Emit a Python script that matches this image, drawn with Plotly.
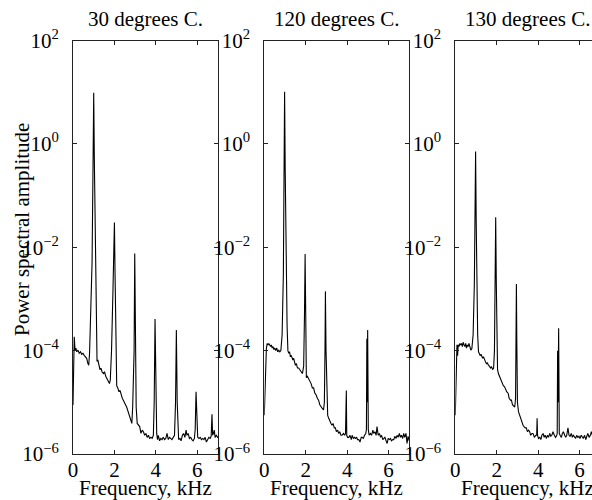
import plotly.graph_objects as go

# ---------------- data ----------------
titles = ["30 degrees C.", "120 degrees C.", "130 degrees C."]
x_title = "Frequency, kHz"
y_title = "Power spectral amplitude"
x_tick_vals = [0, 2, 4, 6]
x_tick_text = ["0", "2", "4", "6"]
y_tick_vals = [1e-6, 1e-4, 1e-2, 1e0, 1e2]
y_tick_text = ["10<sup>\u22126</sup>", "10<sup>\u22124</sup>", "10<sup>\u22122</sup>",
               "10<sup>0</sup>", "10<sup>2</sup>"]

freq_30 = [0.00, 0.03, 0.06, 0.10, 0.14, 0.18, 0.24, 0.30, 0.36, 0.42, 0.48, 0.54, 0.60, 0.66,
           0.72, 0.76, 0.80, 0.85, 0.92, 0.97, 1.00, 1.03, 1.08, 1.12, 1.16,
           1.20, 1.26, 1.30, 1.35, 1.40, 1.47, 1.52, 1.58, 1.63, 1.70, 1.76, 1.80,
           1.86, 1.93, 1.97, 2.00, 2.03, 2.07, 2.11,
           2.16, 2.22, 2.27, 2.32, 2.38, 2.43, 2.48, 2.54, 2.59, 2.64, 2.70, 2.75, 2.80, 2.84, 2.88,
           2.90, 2.95, 2.98, 3.01, 3.05,
           3.10, 3.16, 3.22, 3.28, 3.34, 3.40, 3.46, 3.52, 3.58, 3.64, 3.70, 3.76, 3.82, 3.88,
           3.92, 3.96, 4.00, 4.04,
           4.08, 4.12, 4.18, 4.24, 4.30, 4.36, 4.42, 4.48, 4.54, 4.60, 4.66, 4.72, 4.78, 4.84, 4.90,
           4.95, 4.99, 5.03, 5.06,
           5.10, 5.16, 5.22, 5.28, 5.34, 5.40, 5.46, 5.50, 5.56, 5.62, 5.68, 5.74, 5.80, 5.86,
           5.90, 5.94, 5.98,
           6.02, 6.08, 6.14, 6.20, 6.26, 6.32, 6.38, 6.44, 6.50, 6.56, 6.62, 6.67,
           6.71, 6.74, 6.78, 6.82, 6.86, 6.92, 6.98, 7.02]
power_30 = [8.9e-6, 1.0e-4, 1.86e-4, 1.0e-4, 1.12e-4, 9.5e-5, 1.02e-4, 8.9e-5, 9.5e-5, 8.5e-5, 8.9e-5, 8.1e-5, 7.6e-5, 7.1e-5,
            5.6e-5, 5.2e-5, 9.0e-5, 4.0e-4, 5.0e-3, 0.5, 9.8, 0.5, 5.0e-3, 2.0e-4, 6.2e-5,
            6.6e-5, 5.2e-5, 4.3e-5, 4.6e-5, 3.9e-5, 3.6e-5, 3.9e-5, 3.2e-5, 2.9e-5, 2.5e-5, 2.3e-5, 2.7e-5,
            1.0e-4, 1.5e-3, 5.0e-3, 3.0e-2, 3.0e-3, 2.0e-4, 2.1e-5,
            1.9e-5, 1.6e-5, 1.7e-5, 1.4e-5, 1.2e-5, 1.1e-5, 9.5e-6, 8.9e-6, 8.1e-6, 7.0e-6, 5.6e-6, 5.2e-6, 4.2e-6, 3.9e-6, 8.0e-6,
            1.5e-5, 1.0e-4, 7.6e-3, 1.0e-4, 8.0e-6,
            3.9e-6, 3.6e-6, 3.4e-6, 2.5e-6, 2.9e-6, 2.7e-6, 2.3e-6, 2.5e-6, 2.1e-6, 2.3e-6, 2.0e-6, 2.1e-6, 2.0e-6, 2.3e-6,
            1.0e-5, 4.1e-4, 1.0e-5, 2.5e-6,
            1.9e-6, 2.3e-6, 1.8e-6, 2.0e-6, 1.9e-6, 2.1e-6, 1.9e-6, 2.0e-6, 2.5e-6, 1.9e-6, 2.1e-6, 2.0e-6, 1.9e-6, 2.1e-6, 2.3e-6,
            1.0e-5, 2.5e-4, 1.0e-5, 2.3e-6,
            1.9e-6, 2.0e-6, 1.8e-6, 2.3e-6, 2.5e-6, 2.1e-6, 2.9e-6, 2.3e-6, 2.5e-6, 2.0e-6, 2.1e-6, 1.9e-6, 1.8e-6, 2.0e-6,
            3.0e-6, 1.6e-5, 3.0e-6,
            2.1e-6, 2.0e-6, 2.1e-6, 1.9e-6, 2.0e-6, 1.9e-6, 2.1e-6, 1.7e-6, 1.9e-6, 2.1e-6, 2.0e-6, 2.2e-6,
            5.9e-6, 2.3e-6, 2.5e-6, 2.9e-6, 2.1e-6, 2.3e-6, 2.1e-6, 2.2e-6]

freq_120 = [0.00, 0.03, 0.06, 0.10, 0.14, 0.18, 0.22, 0.26, 0.30, 0.34, 0.38, 0.42, 0.46, 0.50,
            0.55, 0.60, 0.65, 0.70, 0.75, 0.80,
            0.86, 0.92, 0.95, 0.98, 1.01, 1.05, 1.10, 1.14,
            1.18, 1.22, 1.26, 1.30, 1.34, 1.38, 1.42, 1.46, 1.50, 1.55, 1.60, 1.66, 1.72, 1.78, 1.84,
            1.90, 1.94, 1.97, 2.00, 2.03,
            2.08, 2.14, 2.20, 2.26, 2.32, 2.38, 2.44, 2.50, 2.56, 2.62, 2.68, 2.74, 2.80, 2.86,
            2.90, 2.93, 2.95, 2.98, 3.02,
            3.06, 3.11, 3.16, 3.22, 3.27, 3.32, 3.38, 3.43, 3.48, 3.54, 3.59, 3.64, 3.70, 3.75, 3.82, 3.88,
            3.92, 3.94, 3.96, 3.98,
            4.02, 4.08, 4.14, 4.20, 4.24, 4.30, 4.36, 4.40, 4.46, 4.50, 4.56, 4.62, 4.68, 4.72, 4.78, 4.84, 4.90,
            4.93, 4.95, 4.97, 4.99, 5.02,
            5.06, 5.12, 5.18, 5.24, 5.28, 5.34, 5.40, 5.44, 5.50, 5.56, 5.61, 5.66, 5.72, 5.77, 5.82, 5.88,
            5.93, 5.98, 6.04, 6.09, 6.14, 6.20, 6.25, 6.30, 6.36, 6.41, 6.46, 6.52, 6.57, 6.62, 6.68, 6.73,
            6.78, 6.84, 6.89, 6.94, 7.00]
power_120 = [5.6e-6, 2.0e-5, 5.2e-5, 1.1e-4, 1.38e-4, 1.29e-4, 1.38e-4, 1.29e-4, 1.20e-4, 1.29e-4, 1.12e-4, 1.20e-4, 1.05e-4, 1.12e-4,
             1.0e-4, 1.12e-4, 9.5e-5, 1.02e-4, 9.5e-5, 1.0e-4,
             2.0e-4, 3.0e-3, 0.3, 10.2, 0.3, 3.0e-3, 3.0e-4, 1.0e-4,
             8.9e-5, 9.5e-5, 7.6e-5, 8.1e-5, 7.1e-5, 6.6e-5, 7.1e-5, 5.8e-5, 5.2e-5, 5.6e-5, 4.6e-5, 4.6e-5, 4.1e-5, 3.9e-5, 3.6e-5,
             5.0e-5, 5.0e-4, 7.4e-3, 5.0e-4, 3.0e-5,
             3.2e-5, 2.9e-5, 2.5e-5, 2.3e-5, 1.9e-5, 1.9e-5, 1.5e-5, 1.4e-5, 1.2e-5, 1.1e-5, 9.0e-6, 8.1e-6, 7.6e-6, 7.1e-6,
             1.0e-5, 1.0e-4, 1.4e-3, 1.0e-4, 8.0e-6,
             5.6e-6, 4.9e-6, 4.3e-6, 3.9e-6, 3.6e-6, 3.9e-6, 3.2e-6, 3.2e-6, 2.7e-6, 2.9e-6, 2.5e-6, 2.7e-6, 2.3e-6, 2.3e-6, 2.5e-6, 2.3e-6,
             2.5e-6, 1.7e-5, 1.7e-5, 2.3e-6,
             2.1e-6, 2.1e-6, 2.3e-6, 1.9e-6, 2.3e-6, 2.0e-6, 2.1e-6, 2.0e-6, 2.1e-6, 1.9e-6, 1.9e-6, 1.7e-6, 2.1e-6, 2.1e-6, 2.0e-6, 2.3e-6, 2.5e-6,
             3.0e-6, 1.7e-4, 1.0e-5, 2.5e-4, 3.0e-6,
             2.3e-6, 2.5e-6, 2.3e-6, 2.9e-6, 2.5e-6, 2.7e-6, 2.3e-6, 3.4e-6, 2.3e-6, 2.5e-6, 2.1e-6, 2.3e-6, 1.9e-6, 2.0e-6, 2.1e-6, 1.8e-6,
             1.6e-6, 2.0e-6, 1.9e-6, 2.0e-6, 1.8e-6, 1.9e-6, 1.9e-6, 2.2e-6, 2.0e-6, 2.3e-6, 2.1e-6, 2.5e-6, 2.1e-6, 2.3e-6, 2.0e-6, 2.5e-6,
             2.1e-6, 2.5e-6, 1.6e-6, 2.2e-6, 1.8e-6]

freq_130 = [0.00, 0.03, 0.06, 0.08, 0.11, 0.14, 0.18, 0.22, 0.26, 0.30, 0.34, 0.38, 0.42, 0.46, 0.50,
            0.54, 0.58, 0.62, 0.66, 0.70, 0.75, 0.80,
            0.86, 0.92, 0.95, 0.98, 1.01, 1.04, 1.08, 1.12,
            1.16, 1.20, 1.24, 1.28, 1.32, 1.36, 1.40, 1.45, 1.50, 1.55, 1.60, 1.65, 1.70, 1.75, 1.80, 1.85,
            1.89, 1.92, 1.95, 1.98, 2.01, 2.04,
            2.08, 2.13, 2.18, 2.22, 2.27, 2.32, 2.38, 2.43, 2.48, 2.55, 2.60, 2.66, 2.71, 2.76, 2.82, 2.87,
            2.91, 2.93, 2.95, 2.97, 3.00,
            3.05, 3.11, 3.16, 3.22, 3.27, 3.32, 3.38, 3.43, 3.48, 3.54, 3.59, 3.64, 3.70, 3.75, 3.82, 3.88,
            3.93, 3.95, 3.97,
            4.02, 4.08, 4.13, 4.18, 4.24, 4.29, 4.34, 4.40, 4.45, 4.50, 4.56, 4.61, 4.66, 4.72, 4.78, 4.84, 4.90,
            4.92, 4.94, 4.96, 4.99, 5.02,
            5.06, 5.12, 5.17, 5.22, 5.28, 5.33, 5.38, 5.44, 5.49, 5.54, 5.60, 5.65, 5.70, 5.76, 5.81, 5.86,
            5.92, 5.97, 6.02, 6.08, 6.13, 6.18, 6.24, 6.30, 6.35, 6.40, 6.46, 6.52, 6.57, 6.62, 6.68]
power_130 = [5.6e-6, 3.0e-5, 1.0e-4, 1.3e-4, 8.0e-5, 1.3e-4, 1.2e-4, 1.38e-4, 1.29e-4, 1.38e-4, 1.2e-4, 1.45e-4, 1.29e-4, 1.2e-4, 1.38e-4,
             1.12e-4, 1.29e-4, 1.2e-4, 1.38e-4, 1.12e-4, 1.02e-4, 1.1e-4,
             2.0e-4, 2.0e-3, 3.0e-2, 0.71, 3.0e-2, 2.0e-3, 2.0e-4, 9.5e-5,
             8.9e-5, 8.1e-5, 8.5e-5, 7.6e-5, 7.1e-5, 7.6e-5, 6.6e-5, 6.2e-5, 5.6e-5, 5.8e-5, 5.2e-5, 5.0e-5, 4.6e-5, 4.9e-5, 4.3e-5, 4.6e-5,
             1.0e-4, 2.0e-3, 3.8e-2, 2.0e-3, 1.0e-4, 4.3e-5,
             3.6e-5, 3.2e-5, 2.9e-5, 2.7e-5, 2.3e-5, 2.1e-5, 2.0e-5, 1.7e-5, 1.6e-5, 1.5e-5, 1.2e-5, 1.1e-5, 1.1e-5, 9.0e-6, 8.5e-6, 8.1e-6,
             1.2e-5, 1.5e-4, 1.95e-3, 1.5e-4, 1.0e-5,
             6.6e-6, 5.6e-6, 4.6e-6, 3.9e-6, 3.6e-6, 3.4e-6, 3.2e-6, 3.2e-6, 2.7e-6, 2.9e-6, 2.7e-6, 2.3e-6, 2.5e-6, 2.5e-6, 2.1e-6, 2.3e-6,
             2.3e-6, 4.9e-6, 2.3e-6,
             2.0e-6, 2.1e-6, 1.9e-6, 2.3e-6, 2.5e-6, 2.1e-6, 2.3e-6, 2.0e-6, 2.3e-6, 2.1e-6, 2.5e-6, 2.2e-6, 2.3e-6, 2.7e-6, 2.3e-6, 2.1e-6, 2.3e-6,
             2.5e-6, 1.0e-4, 1.0e-5, 2.7e-4, 2.5e-6,
             2.3e-6, 2.1e-6, 2.5e-6, 2.7e-6, 2.3e-6, 2.1e-6, 2.3e-6, 3.2e-6, 2.3e-6, 2.2e-6, 2.5e-6, 2.1e-6, 2.3e-6, 2.1e-6, 2.0e-6, 2.3e-6,
             2.1e-6, 2.2e-6, 2.0e-6, 2.3e-6, 2.1e-6, 2.0e-6, 2.3e-6, 1.9e-6, 2.2e-6, 2.5e-6, 2.1e-6, 2.3e-6, 2.7e-6, 2.3e-6, 2.5e-6]

x_ranges = [[0, 7], [0, 7], [0, 6.6]]

# ---------------- layout ----------------
W, H = 592, 500
FONT = "Liberation Serif, Times New Roman, serif"
FS = 21
AXC = "#222222"

# plot boxes in pixels (left, right)
px_boxes = [(73, 218), (264.3, 409.3), (455.3, 592)]
top_px, bot_px = 40.5, 454

fig = go.Figure()
series = [(freq_30, power_30), (freq_120, power_120), (freq_130, power_130)]
for i, (f, p) in enumerate(series):
    n = "" if i == 0 else str(i + 1)
    fig.add_trace(go.Scatter(x=f, y=p, mode="lines", line=dict(color="black", width=1.1),
                             xaxis="x" + n, yaxis="y" + n, showlegend=False, hoverinfo="skip"))
    l, r = px_boxes[i]
    fig.layout["xaxis" + n] = dict(
        domain=[l / W, r / W], anchor="y" + n, range=x_ranges[i],
        tickvals=x_tick_vals, ticktext=x_tick_text, ticks="inside", ticklen=4,
        tickcolor=AXC, showline=True, linecolor=AXC, linewidth=1, mirror="ticks",
        ticklabelstandoff=-3,
        showgrid=False, zeroline=False, tickfont=dict(family=FONT, size=FS, color="black"),
        automargin=False,
    )
    fig.layout["yaxis" + n] = dict(
        domain=[1 - bot_px / H, 1 - top_px / H], anchor="x" + n, type="log", range=[-6, 2],
        tickvals=y_tick_vals, ticktext=y_tick_text, ticks="inside", ticklen=4,
        tickcolor=AXC, showline=True, linecolor=AXC, linewidth=1,
        mirror=("ticks" if i < 2 else False), ticklabelstandoff=9,
        showgrid=False, zeroline=False, tickfont=dict(family=FONT, size=FS, color="black"),
        automargin=False,
    )
    cx = (l + (r if i < 2 else 600)) / 2
    fig.add_annotation(x=cx / W, y=1 - 19 / H, xref="paper", yref="paper", text=titles[i],
                       showarrow=False, xanchor="center", yanchor="middle",
                       font=dict(family=FONT, size=FS, color="black"))
    fig.add_annotation(x=cx / W, y=1 - 488 / H, xref="paper", yref="paper", text=x_title,
                       showarrow=False, xanchor="center", yanchor="middle",
                       font=dict(family=FONT, size=FS, color="black"))

fig.add_annotation(x=22 / W, y=1 - 230 / H, xref="paper", yref="paper", text=y_title,
                   textangle=-90, showarrow=False, xanchor="center", yanchor="middle",
                   font=dict(family=FONT, size=FS, color="black"))

fig.update_layout(width=W, height=H, margin=dict(l=0, r=0, t=0, b=0),
                  paper_bgcolor="white", plot_bgcolor="white")

fig.write_html("out.html", config={"displayModeBar": False},
               post_script="document.body.style.margin='0';document.body.style.padding='0';"
                           "document.body.style.overflow='hidden';")
